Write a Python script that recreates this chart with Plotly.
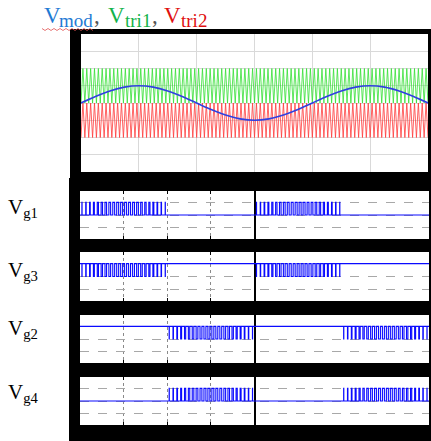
import plotly.graph_objects as go

W, H = 431, 441

# ---------------- data ----------------
# top panel: modulating wave and two level-shifted triangular carriers
T_TOP_END = 0.03                 # 6 divisions of 5 ms
MOD_STEP = 0.00125               # sample spacing of the read-off modulating wave
MOD_V = [0.0, 0.19, 0.35, 0.46, 0.50, 0.46, 0.35, 0.19,
         0.0, -0.19, -0.35, -0.46, -0.50, -0.46, -0.35, -0.19,
         0.0, 0.19, 0.35, 0.46, 0.50, 0.46, 0.35, 0.19, 0.0]
N_CARRIER_TOP = 90               # carrier periods counted across the window
TRI1_LEVELS = [0.0, 1.0]         # green carrier swings between these
TRI2_LEVELS = [-1.0, 0.0]        # red carrier swings between these

# bottom panel: gate signals
T_BOT_END = 0.04
HALF_CYCLE = 0.01
PULSES_PER_HALF = 22
DUTY = [0.04, 0.11, 0.17, 0.24, 0.30, 0.35, 0.40, 0.44, 0.47, 0.49, 0.50,
        0.50, 0.49, 0.47, 0.44, 0.40, 0.35, 0.30, 0.24, 0.17, 0.11, 0.04]
GATE_NAMES = ["g1", "g3", "g2", "g4"]
GATE_BASE = [0, 1, 1, 0]         # level between pulses
GATE_PULSE = [1, 0, 0, 1]        # level reached by each pulse
GATE_WINDOWS = [[0.0, 0.02], [0.0, 0.02], [0.01, 0.03], [0.01, 0.03]]  # starts of active half-cycles

# title pieces: (main letter, subscript, colour)
TITLE_PARTS = [("V", "mod", "#1f7ad4"), ("V", "tri1", "#12b34a"), ("V", "tri2", "#e01010")]
COMMA = ","

# ---------------- geometry (pixels) ----------------
def px_x(p):
    return p / W

def px_y(p):
    return 1 - p / H

fig = go.Figure()

# top traces
mod_t = [i * MOD_STEP for i in range(len(MOD_V))]
n_v = 2 * N_CARRIER_TOP + 1
tri_t = [k * T_TOP_END / (2 * N_CARRIER_TOP) for k in range(n_v)]
tri1 = [TRI1_LEVELS[k % 2] for k in range(n_v)]
tri2 = [TRI2_LEVELS[k % 2] for k in range(n_v)]

fig.add_trace(go.Scatter(x=tri_t, y=tri1, mode="lines", line=dict(color="#33e033", width=0.8),
                         xaxis="x", yaxis="y", showlegend=False, hoverinfo="skip"))
fig.add_trace(go.Scatter(x=tri_t, y=tri2, mode="lines", line=dict(color="#ff3b3b", width=0.8),
                         xaxis="x", yaxis="y", showlegend=False, hoverinfo="skip"))
fig.add_trace(go.Scatter(x=mod_t, y=MOD_V, mode="lines", line=dict(color="#3040e0", width=1.6, shape="spline"),
                         xaxis="x", yaxis="y", showlegend=False, hoverinfo="skip"))

# gate traces
tc = HALF_CYCLE / PULSES_PER_HALF
for i in range(4):
    base, pulse = GATE_BASE[i], GATE_PULSE[i]
    xs, ys = [0.0], [base]
    for s in GATE_WINDOWS[i]:
        for k, d in enumerate(DUTY):
            c = s + (k + 0.5) * tc
            xs += [c - d * tc / 2, c + d * tc / 2]
            ys += [pulse, base]
    xs.append(T_BOT_END)
    ys.append(base)
    ax = str(i + 2)
    fig.add_trace(go.Scatter(x=xs, y=ys, mode="lines", line=dict(color="#0a0aff", width=1.1, shape="hv"),
                             xaxis="x" + ax, yaxis="y" + ax, showlegend=False, hoverinfo="skip"))

# ---------------- layout ----------------
layout = dict(
    width=W, height=H, margin=dict(l=0, r=0, t=0, b=0),
    paper_bgcolor="white", plot_bgcolor="white",
)
TOP_BOX = (81, 428, 34, 172)   # left, right, top, bottom of top plot area
layout["xaxis"] = dict(domain=[px_x(TOP_BOX[0]), px_x(TOP_BOX[1])], range=[0, T_TOP_END], dtick=0.005, tick0=0,
                       showticklabels=False, showgrid=True, gridcolor="#d9d9d9", gridwidth=1,
                       zeroline=False, showline=False, anchor="y")
layout["yaxis"] = dict(domain=[px_y(TOP_BOX[3]), px_y(TOP_BOX[2])], range=[-2, 2], dtick=0.5, tick0=0,
                       showticklabels=False, showgrid=True, gridcolor="#d9d9d9", gridwidth=1,
                       zeroline=False, showline=False, anchor="x")

BOT_L, BOT_R = 80, 429
rows = [(191, 239), (252, 301), (315, 363), (377, 425)]
for i, (t, b) in enumerate(rows):
    ax = str(i + 2)
    layout["xaxis" + ax] = dict(domain=[px_x(BOT_L), px_x(BOT_R)], range=[0, T_BOT_END],
                                tickvals=[0.005, 0.01, 0.015], showticklabels=False,
                                showgrid=True, gridcolor="#8a8a8a", griddash="dot", gridwidth=1,
                                ticks="inside", ticklen=3, tickcolor="black", tickwidth=1,
                                showline=True, linecolor="black", mirror="ticks",
                                minor=dict(tickvals=[0.02], showgrid=True, gridcolor="black",
                                           griddash="solid", gridwidth=1.5),
                                zeroline=False, anchor="y" + ax)
    layout["yaxis" + ax] = dict(domain=[px_y(b), px_y(t)], range=[-1.9, 1.9],
                                tickvals=[-1, 0, 1], showticklabels=False,
                                showgrid=True, gridcolor="#a8a8a8", griddash="dash", gridwidth=1,
                                zeroline=False, showline=False, anchor="x" + ax)

# black scope frames, drawn as strips around the white plot areas
def black(x0, x1, y0, y1):
    return dict(type="rect", xref="paper", yref="paper", x0=px_x(x0), x1=px_x(x1),
                y0=px_y(y1), y1=px_y(y0), fillcolor="black", line=dict(width=0), layer="below")

shapes = [
    black(70, 431, 29, TOP_BOX[2]), black(70, TOP_BOX[0], 29, 180),
    black(TOP_BOX[1], 431, 29, 180), black(70, 431, TOP_BOX[3], 180),
    black(69, BOT_L, 178, 441), black(BOT_R, 431, 178, 441),
    black(69, 431, 178, rows[0][0]), black(69, 431, rows[-1][1], 441),
]
for (t0, b0), (t1, b1) in zip(rows[:-1], rows[1:]):
    shapes.append(black(69, 431, b0, t1))

# red wavy spell-check underline below "mod"
path = "M"
for j in range(18):
    xx = 42 + j * 3
    yy = 28.5 if j % 2 == 0 else 30.5
    path += ("" if j == 0 else " L") + f"{px_x(xx):.5f},{px_y(yy):.5f}"
shapes.append(dict(type="path", xref="paper", yref="paper", path=path,
                   line=dict(color="#e05050", width=0.8), layer="above"))
layout["shapes"] = shapes

serif = "Liberation Serif"
ann = []
v_x = [42, 106, 162]       # left of each main V
sub_x = [57, 123, 179]     # left of each subscript
comma_x = [92, 150]
for (v, sub, col), vx, sx in zip(TITLE_PARTS, v_x, sub_x):
    ann.append(dict(text=v, xref="paper", yref="paper", x=px_x(vx), y=px_y(15), xanchor="left",
                    yanchor="middle", showarrow=False, font=dict(family=serif, size=23, color=col)))
    ann.append(dict(text=sub, xref="paper", yref="paper", x=px_x(sx), y=px_y(20.5), xanchor="left",
                    yanchor="middle", showarrow=False, font=dict(family=serif, size=19, color=col)))
for cx in comma_x:
    ann.append(dict(text=COMMA, xref="paper", yref="paper", x=px_x(cx), y=px_y(16), xanchor="left",
                    yanchor="middle", showarrow=False, font=dict(family=serif, size=23, color="#555555")))
label_y = [208, 271, 329, 393]
for name, yy in zip(GATE_NAMES, label_y):
    ann.append(dict(text="V<sub>" + name + "</sub>", xref="paper", yref="paper", x=px_x(6), y=px_y(yy),
                    xanchor="left", yanchor="middle", showarrow=False,
                    font=dict(family=serif, size=21, color="black")))
layout["annotations"] = ann

fig.update_layout(**layout)
fig.write_html("out.html", config={"displayModeBar": False},
               post_script="document.body.style.margin='0';document.body.style.overflow='hidden';")
